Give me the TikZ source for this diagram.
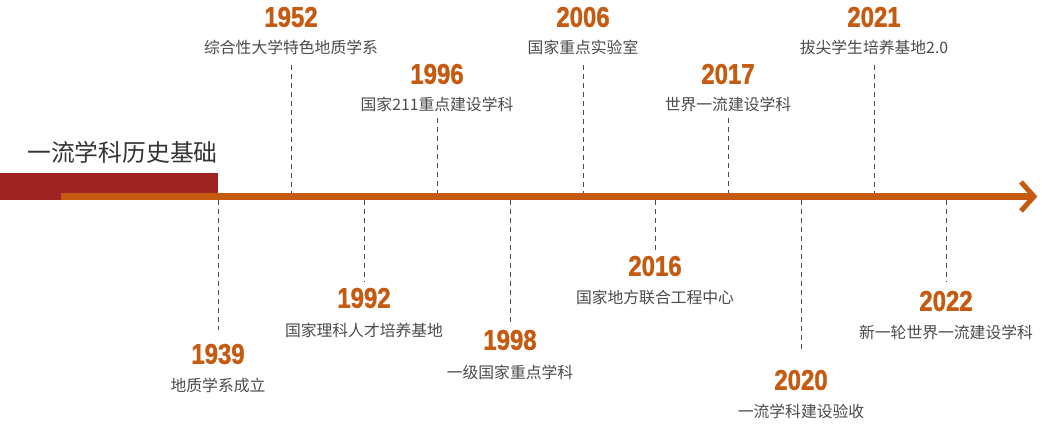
\documentclass[tikz,border=0pt]{standalone}
\usepackage{fontspec}
\setmainfont{Liberation Sans}
\newfontfamily\cjk{Noto Sans CJK SC}
\newfontfamily\yearfont{Liberation Sans Bold}[FakeStretch=0.84, FakeBold=1.2]
\definecolor{tlred}{HTML}{A02323}
\definecolor{tlorange}{HTML}{C55A11}
\definecolor{tlgray}{HTML}{4A4A4A}
\definecolor{tltitle}{HTML}{333333}
\begin{document}
\begin{tikzpicture}[x=1pt,y=-1pt,
  year/.style={text=tlorange, font=\yearfont\fontsize{28.5}{28}\selectfont, inner sep=0pt, anchor=center},
  desc/.style={text=tlgray, font=\cjk\fontsize{15.8}{16}\selectfont, inner sep=0pt, anchor=center},
  tick/.style={draw=tlgray, line width=0.9pt, dash pattern=on 5pt off 4pt},
  axisline/.style={draw=tlorange, line width=7pt},
  chevron/.style={draw=tlorange, line width=5pt, line join=miter}]
\useasboundingbox (0,0) rectangle (1042,425);
% red bar and title
\fill[tlred] (0,173) rectangle (218,200);
\node[text=tltitle, font=\cjk\fontsize{23.8}{24}\selectfont, inner sep=0pt, anchor=west] (title) at (27,152) {一流学科历史基础};
% axis
\coordinate (ls) at (61,196.5);
\coordinate (le) at (1034,196.5);
\coordinate (ca) at (1021,182);
\coordinate (cb) at (1021,211);
\draw[axisline] (ls) -- (le);
\draw[chevron] (ca) -- (le) -- (cb);
% events
\foreach \x/\yr/\ya/\yb/\yy/\yt/\txt in {
  218/1939/200/330/354/385/地质学系成立,
  291/1952/65/193/17/47/综合性大学特色地质学系,
  364/1992/200/282/298/330/国家理科人才培养基地,
  437/1996/118/193/74/104/国家211重点建设学科,
  510/1998/200/322/340/372/一级国家重点学科,
  583/2006/65/193/17/47/国家重点实验室,
  655/2016/200/252/266/298/国家地方联合工程中心,
  728/2017/118/193/74/104/世界一流建设学科,
  801/2020/200/352/380/411/一流学科建设验收,
  874/2021/65/193/17/47/拔尖学生培养基地2.0,
  946/2022/200/282/301/332/新一轮世界一流建设学科}{
  \coordinate (ta\yr) at (\x,\ya);
  \coordinate (tb\yr) at (\x,\yb);
  \draw[tick] (ta\yr) -- (tb\yr);
  \node[year] (y\yr) at (\x,\yy) {\yr};
  \node[desc] (d\yr) at (\x,\yt) {\txt};
}
\end{tikzpicture}
\end{document}
